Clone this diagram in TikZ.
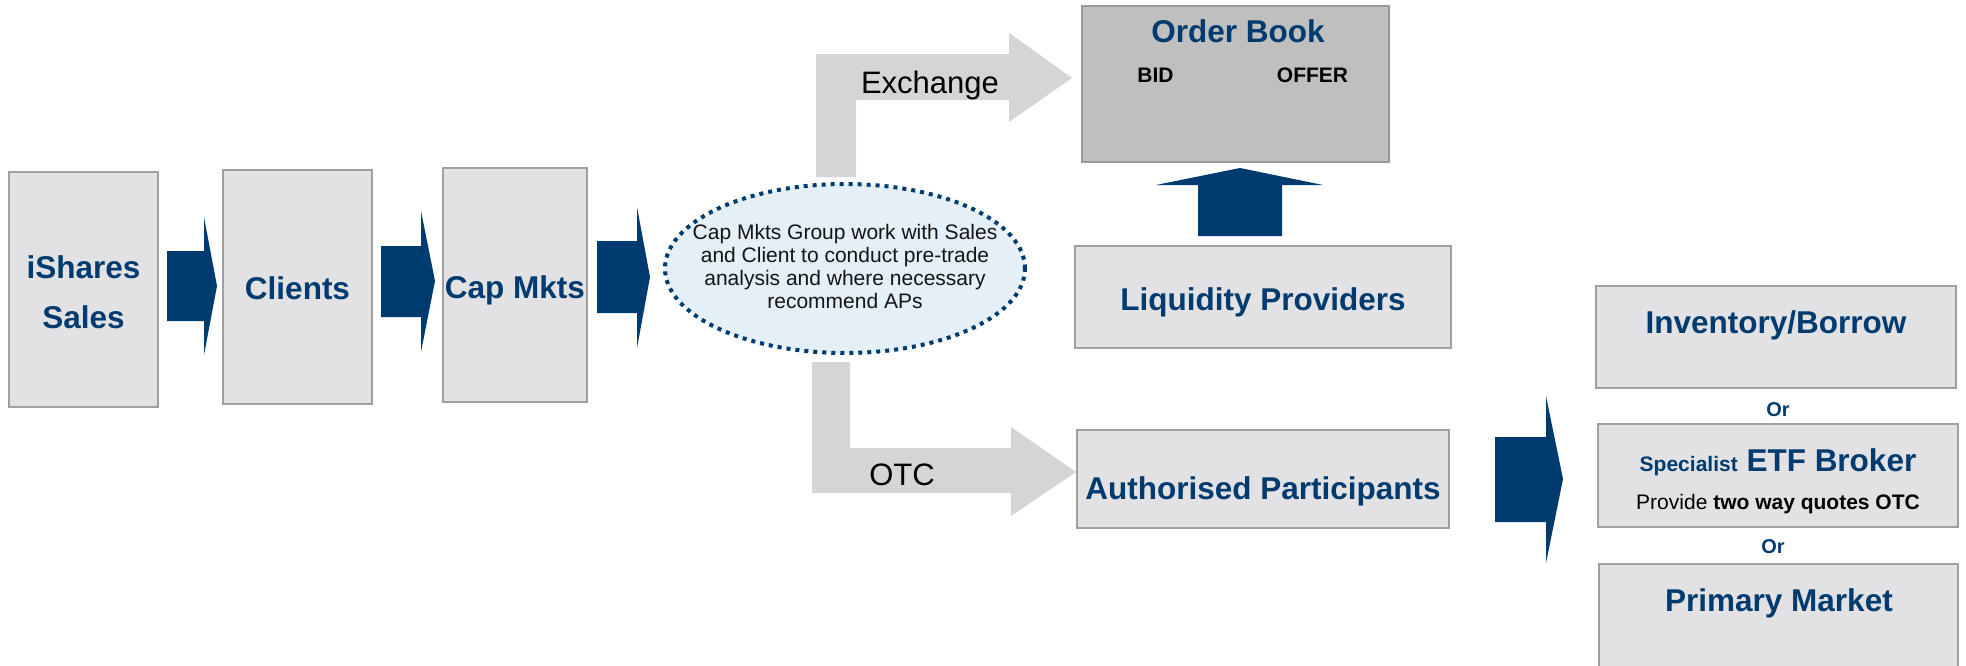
\documentclass[tikz,border=0pt]{standalone}
\usepackage{fontspec}
\setmainfont{Liberation Sans}
\usetikzlibrary{shapes.geometric}
\definecolor{navy}{HTML}{003B6F}
\definecolor{boxfill}{HTML}{E2E2E4}
\definecolor{boxline}{HTML}{A0A0A0}
\definecolor{obfill}{HTML}{BFBFBF}
\definecolor{obline}{HTML}{999999}
\definecolor{garrow}{HTML}{D5D5D7}
\definecolor{ellfill}{HTML}{E4EFF7}
\definecolor{txtdark}{HTML}{151515}
\begin{document}
\begin{tikzpicture}[x=1pt,y=-1pt,
  box/.style={draw=boxline, line width=2pt, fill=boxfill, inner sep=0pt, rectangle},
  bigt/.style={font=\fontsize{31.5}{50}\selectfont\bfseries, text=navy, inner sep=0pt, anchor=base, align=center},
  midt/.style={font=\fontsize{21}{23}\selectfont\bfseries, text=black, inner sep=0pt, anchor=base},
  ort/.style={font=\fontsize{20}{22}\selectfont\bfseries, text=navy, inner sep=0pt, anchor=base},
  plaint/.style={font=\fontsize{31}{36}\selectfont, text=black, inner sep=0pt, anchor=base},
  navyarrow/.style={fill=navy, draw=none},
  grayarrow/.style={fill=garrow, draw=none}]
\useasboundingbox (0,0) rectangle (1966,665);
\clip (0,0) rectangle (1966,665);

% boxes
\node[box, minimum width=149pt, minimum height=235pt] (ishares) at (83.5,289.5) {};
\node[box, minimum width=149pt, minimum height=234pt] (clients) at (297.5,287) {};
\node[box, minimum width=144pt, minimum height=234pt] (capmkts) at (515,285) {};
\node[box, fill=obfill, draw=obline, minimum width=307pt, minimum height=156pt] (orderbook) at (1235.5,84) {};
\node[box, minimum width=376pt, minimum height=102pt] (lp) at (1263,297) {};
\node[box, minimum width=372pt, minimum height=98pt] (ap) at (1263,479) {};
\node[box, minimum width=360pt, minimum height=102pt] (inv) at (1776,337) {};
\node[box, minimum width=360pt, minimum height=103pt] (etf) at (1778,475.5) {};
\node[box, minimum width=359pt, minimum height=136pt] (prim) at (1778.5,632) {};

% navy block arrows
\fill[navyarrow] (167,251) -- (204,251) -- (204,217) -- (217,286) -- (204,355) -- (204,321) -- (167,321) -- cycle;
\fill[navyarrow] (381,246) -- (421,246) -- (421,211) -- (435,281) -- (421,352) -- (421,317) -- (381,317) -- cycle;
\fill[navyarrow] (597,241) -- (637,241) -- (637,207) -- (650,277) -- (637,348) -- (637,313) -- (597,313) -- cycle;
\fill[navyarrow] (1198,236) -- (1198,185) -- (1156,185) -- (1240,168) -- (1323,185) -- (1282,185) -- (1282,236) -- cycle;
\fill[navyarrow] (1495,437) -- (1546,437) -- (1546,396) -- (1563,479) -- (1546,563) -- (1546,522) -- (1495,522) -- cycle;

% gray bent arrows
\fill[grayarrow] (816,177) -- (816,54) -- (1009,54) -- (1009,33) -- (1072,78) -- (1009,122) -- (1009,100) -- (856,100) -- (856,177) -- cycle;
\fill[grayarrow] (812,362) -- (850,362) -- (850,448) -- (1011,448) -- (1011,427) -- (1076,472) -- (1011,516) -- (1011,493) -- (812,493) -- cycle;

% ellipse
\node[ellipse, draw=navy, line width=4pt, dash pattern=on 4pt off 5pt, fill=ellfill,
      minimum width=360pt, minimum height=169pt, inner sep=0pt] (grp) at (845,268.5) {};

% texts (base anchor = baseline of the last line)
\node[bigt] (tish) at (83.5,328) {iShares\\Sales};
\node[bigt] (tcli) at (297.5,299) {Clients};
\node[bigt] (tcap) at (515,298) {Cap Mkts};
\node[bigt] (tob) at (1238,42) {Order Book};
\node[midt] (tbid) at (1155.5,82) {BID};
\node[midt] (toff) at (1312.5,82) {OFFER};
\node[bigt] (tlp) at (1263,310) {Liquidity Providers};
\node[bigt] (tap) at (1263,499) {Authorised Participants};
\node[bigt] (tinv) at (1776,333) {Inventory/Borrow};
\node[ort] (tor1) at (1778,416) {Or};
\node[bigt] (tetf) at (1778,471) {{\fontsize{21}{23}\selectfont Specialist} ETF Broker};
\node[midt, font=\fontsize{21}{23}\selectfont] (tquote) at (1778,509) {Provide \textbf{two way quotes OTC}};
\node[ort] (tor2) at (1773,553) {Or};
\node[bigt] (tprim) at (1779,611) {Primary Market};
\node[plaint] (texch) at (930,93) {Exchange};
\node[plaint] (totc) at (902,485) {OTC};
\node[font=\fontsize{21}{23}\selectfont, text=txtdark, inner sep=0pt, anchor=base, align=center] (tgrp) at (845,308)
  {Cap Mkts Group work with Sales\\and Client to conduct pre-trade\\analysis and where necessary\\recommend APs};
\end{tikzpicture}
\end{document}
